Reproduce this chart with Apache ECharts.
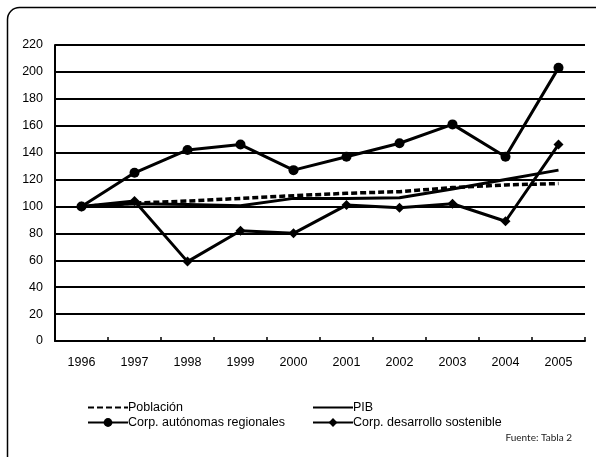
<!DOCTYPE html>
<html><head><meta charset="utf-8">
<script src="https://cdn.jsdelivr.net/npm/echarts@6/dist/echarts.min.js"></script>
<style>html,body{margin:0;padding:0;background:#fff}#c{width:596px;height:457px}</style>
</head><body><div id="c"></div>
<script>
const years = ['1996','1997','1998','1999','2000','2001','2002','2003','2004','2005'];
const poblacion = [100, 102.5, 104, 106, 108, 109.8, 111, 114, 116, 117];
const pib = [100, 102, 101.5, 100.5, 106, 106, 106.5, 113, 120, 127];
const corpAutonomas = [100, 125, 142, 146, 127, 137, 147, 161, 137, 203];
const corpDesarrollo = [100, 104, 59, 82, 80, 101, 99, 102, 89, 146];
const yTicks = {min: 0, max: 220, interval: 20};

const chart = echarts.init(document.getElementById('c'), null, {renderer: 'canvas'});
const font = 'Liberation Sans, Arial, sans-serif';
const legendText = {fontFamily: font, fontSize: 12.5, color: '#000', padding: [0, 0, 0, -5]};
const hidden = {opacity: 0};
chart.setOption({
  animation: false,
  backgroundColor: '#fff',
  grid: {left: 55, right: 11, top: 45, bottom: 116, containLabel: false},
  xAxis: {
    type: 'category', data: years, boundaryGap: true,
    axisLine: {lineStyle: {color: '#000', width: 2}},
    axisTick: {show: true, inside: true, length: 4, lineStyle: {color: '#000', width: 1.5}},
    axisLabel: {fontFamily: font, fontSize: 12.5, color: '#000', margin: 15},
    splitLine: {show: false}
  },
  yAxis: {
    type: 'value', min: yTicks.min, max: yTicks.max, interval: yTicks.interval,
    axisLine: {show: true, lineStyle: {color: '#000', width: 2}},
    axisTick: {show: false},
    axisLabel: {fontFamily: font, fontSize: 12.5, color: '#000', margin: 12},
    splitLine: {show: true, lineStyle: {color: '#000', width: 2}}
  },
  legend: [
    {left: 82, top: 396, orient: 'vertical', itemWidth: 40, itemHeight: 11, itemGap: 2,
     data: [{name: 'Población', itemStyle: hidden}, 'Corp. autónomas regionales'], textStyle: legendText},
    {left: 307, top: 396, orient: 'vertical', itemWidth: 40, itemHeight: 11, itemGap: 2,
     data: [{name: 'PIB', itemStyle: hidden}, 'Corp. desarrollo sostenible'], textStyle: legendText}
  ],
  graphic: [
    {type: 'rect', left: 5, top: 5, shape: {width: 610, height: 470, r: 12},
     style: {fill: 'none', stroke: '#000', lineWidth: 1.5}, silent: true},
    {type: 'text', right: 24, top: 433,
     style: {text: 'Fuente: Tabla 2', fontFamily: 'Lato, Open Sans, sans-serif', fontSize: 10, fill: '#222'}}
  ],
  series: [
    {name: 'Población', type: 'line', data: poblacion, symbol: 'none',
     lineStyle: {color: '#000', width: 3.5, type: [6, 3]}, itemStyle: {color: '#000'}, z: 3},
    {name: 'PIB', type: 'line', data: pib, symbol: 'none',
     lineStyle: {color: '#000', width: 3}, itemStyle: {color: '#000'}, z: 3},
    {name: 'Corp. autónomas regionales', type: 'line', data: corpAutonomas, symbol: 'circle', symbolSize: 10,
     lineStyle: {color: '#000', width: 3}, itemStyle: {color: '#000'}, z: 4},
    {name: 'Corp. desarrollo sostenible', type: 'line', data: corpDesarrollo, symbol: 'diamond', symbolSize: 10,
     lineStyle: {color: '#000', width: 3}, itemStyle: {color: '#000'}, z: 4}
  ]
});
</script></body></html>
